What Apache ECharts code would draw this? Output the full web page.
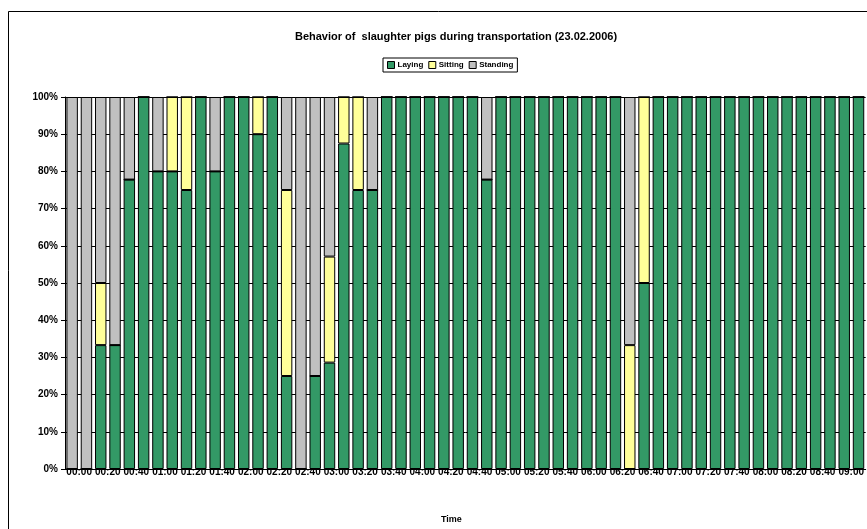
<!DOCTYPE html>
<html><head><meta charset="utf-8">
<script src="https://cdn.jsdelivr.net/npm/echarts@6/dist/echarts.min.js"></script>
<style>html,body{margin:0;padding:0;background:#fff}#c{width:867px;height:529px}</style>
</head><body><div id="c"></div>
<script>
// categories: 10-minute intervals from 00:00
const categories = ["00:00","00:10","00:20","00:30","00:40","00:50","01:00","01:10","01:20","01:30","01:40","01:50","02:00","02:10","02:20","02:30","02:40","02:50","03:00","03:10","03:20","03:30","03:40","03:50","04:00","04:10","04:20","04:30","04:40","04:50","05:00","05:10","05:20","05:30","05:40","05:50","06:00","06:10","06:20","06:30","06:40","06:50","07:00","07:10","07:20","07:30","07:40","07:50","08:00","08:10","08:20","08:30","08:40","08:50","09:00","09:10"];
const laying   = [0,0,33.3,33.3,77.8,100,80,80,75,100,80,100,100,90,100,25,0,25,28.6,87.5,75,75,100,100,100,100,100,100,100,77.8,100,100,100,100,100,100,100,100,100,0,50,100,100,100,100,100,100,100,100,100,100,100,100,100,100,100];
const sitting  = [0,0,16.7,0,0,0,0,20,25,0,0,0,0,10,0,50,0,0,28.5,12.5,25,0,0,0,0,0,0,0,0,0,0,0,0,0,0,0,0,0,0,33.3,50,0,0,0,0,0,0,0,0,0,0,0,0,0,0,0];
const standing = [100,100,50,66.7,22.2,0,20,0,0,0,20,0,0,0,0,25,100,75,42.9,0,0,25,0,0,0,0,0,0,0,22.2,0,0,0,0,0,0,0,0,0,66.7,0,0,0,0,0,0,0,0,0,0,0,0,0,0,0,0];
const yTicks = [0,10,20,30,40,50,60,70,80,90,100];

const font = 'Liberation Sans, Arial, sans-serif';
const chart = echarts.init(document.getElementById('c'), null, {renderer:'canvas'});
const mk = (name, data, color) => ({
  name, type:'bar', stack:'total', data, z:3,
  barCategoryGap:'20%',
  itemStyle:{color, borderColor:'#000', borderWidth:1},
  emphasis:{disabled:true}
});
chart.setOption({
  animation:false,
  backgroundColor:'#fff',
  graphic:[{type:'rect', shape:{x:8.5,y:11.5,width:900,height:600}, style:{fill:'none', stroke:'#000', lineWidth:1}, z:-10}],
  title:{text:'Behavior of  slaughter pigs during transportation (23.02.2006)', left:451, top:26, textAlign:'center',
    textStyle:{fontFamily:font, fontWeight:'bold', fontSize:11, color:'#000'}},
  legend:{data:['Laying','Sitting','Standing'], left:383, top:58, padding:[3,4,3,4], itemGap:5,
    borderColor:'#000', borderWidth:1, itemWidth:7, itemHeight:7, icon:'rect',
    itemStyle:{borderColor:'#000', borderWidth:1},
    textStyle:{fontFamily:font, fontWeight:'bold', fontSize:8, color:'#000', padding:[0,0,0,-2]}},
  grid:{left:65, right:0, top:97, bottom:57, containLabel:false},
  xAxis:{type:'category', data:categories, name:'Time', nameLocation:'middle', nameGap:46,
    nameTextStyle:{fontFamily:font, fontWeight:'bold', fontSize:9, color:'#000', padding:[0,28,0,0]},
    axisLine:{lineStyle:{color:'#000'}}, axisTick:{show:false},
    axisLabel:{interval:1, fontFamily:font, fontWeight:'bold', fontSize:10, color:'#000', margin:-2, padding:[0,0,0,14]}},
  yAxis:{type:'value', min:0, max:100, interval:10,
    axisLine:{show:true, lineStyle:{color:'#000'}}, axisTick:{show:true, length:4, lineStyle:{color:'#000'}},
    splitLine:{show:true, lineStyle:{color:'#000', width:1}},
    axisLabel:{formatter:'{value}%', fontFamily:font, fontWeight:'bold', fontSize:10, color:'#000', margin:7}},
  series:[mk('Laying', laying, '#339966'), mk('Sitting', sitting, '#FFFF99'), mk('Standing', standing, '#C0C0C0')]
});
</script></body></html>
